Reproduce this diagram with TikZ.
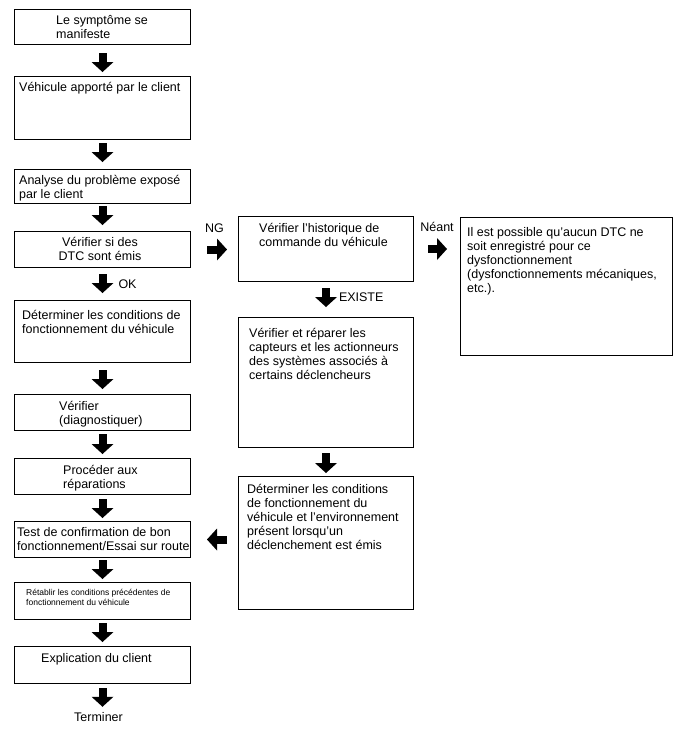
\documentclass[tikz,border=0pt]{standalone}
\usepackage{fontspec}
\setmainfont{Liberation Sans}
\usepackage{tikz}
\usetikzlibrary{arrows.meta, positioning}

\begin{document}
\begin{tikzpicture}[
  x=1pt, y=-1pt,
  box/.style={draw, line width=1pt, inner sep=0pt, anchor=north west},
  txt/.style={inner sep=0pt, anchor=base west, align=left,
    font=\fontsize{12.5}{14}\selectfont},
  small/.style={inner sep=0pt, anchor=base west, align=left,
    font=\fontsize{8.5}{10}\selectfont},
  lbl/.style={inner sep=0pt, font=\fontsize{12.5}{14}\selectfont},
  blk/.style={line width=8pt, -{Triangle[length=10pt, width=22pt, line width=0pt]}}
]
\useasboundingbox (0,0) rectangle (688,755);

% left column
\node[box, minimum width=176pt, minimum height=35pt] (b1) at (14,9) {};
\node[box, minimum width=176pt, minimum height=63pt] (b2) at (14,76) {};
\node[box, minimum width=176pt, minimum height=34pt] (b3) at (14,169) {};
\node[box, minimum width=176pt, minimum height=36pt] (b4) at (14,231) {};
\node[box, minimum width=176pt, minimum height=62pt] (b5) at (14,300) {};
\node[box, minimum width=176pt, minimum height=36pt] (b6) at (14,394) {};
\node[box, minimum width=176pt, minimum height=36pt] (b7) at (14,458) {};
\node[box, minimum width=176pt, minimum height=36pt] (b8) at (14,521) {};
\node[box, minimum width=176pt, minimum height=37pt] (b9) at (14,582) {};
\node[box, minimum width=176pt, minimum height=37pt] (b10) at (14,646) {};

% texts (base = last line)
\node[txt] (t1) at (56,38) {Le symptôme se\\manifeste};
\node[txt] (t2) at (19,91) {Véhicule apporté par le client};
\node[txt] (t3) at (19,198) {Analyse du problème exposé\\par le client};
\node[txt, anchor=base, align=center] (t4) at (100,260) {Vérifier si des\\DTC sont émis};
\node[txt] (t5) at (22,333) {Déterminer les conditions de\\fonctionnement du véhicule};
\node[txt] (t6) at (59,424) {Vérifier\\(diagnostiquer)};
\node[txt] (t7) at (63,488) {Procéder aux\\réparations};
\node[txt] (t8) at (17,550) {Test de confirmation de bon\\fonctionnement/Essai sur route};
\node[small] (t9) at (26,605) {Rétablir les conditions précédentes de\\fonctionnement du véhicule};
\node[txt] (t10) at (41,662) {Explication du client};
\node[txt] (fin) at (74,721) {Terminer};

% right column
\node[box, minimum width=175pt, minimum height=65pt] (vh) at (238,216) {};
\node[box, minimum width=175pt, minimum height=130pt] (vr) at (238,317) {};
\node[box, minimum width=175pt, minimum height=133pt] (dc) at (238,476) {};
\node[box, minimum width=212pt, minimum height=138pt] (nt) at (460,217) {};

\node[txt] (tvh) at (259,246) {Vérifier l'historique de\\commande du véhicule};
\node[txt] (tvr) at (249,379) {Vérifier et réparer les\\capteurs et les actionneurs\\des systèmes associés à\\certains déclencheurs};
\node[txt] (tdc) at (247,549) {Déterminer les conditions\\de fonctionnement du\\véhicule et l'environnement\\présent lorsqu'un\\déclenchement est émis};
\node[txt] (tnt) at (467,292) {Il est possible qu'aucun DTC ne\\soit enregistré pour ce\\dysfonctionnement\\(dysfonctionnements mécaniques,\\etc.).};

% block arrows
\draw[blk, shorten <=8pt, shorten >=4pt] (b1.south) -- (b2.north);
\draw[blk, shorten <=3pt, shorten >=7pt] (b2.south) -- (b3.north);
\draw[blk, shorten <=2pt, shorten >=6pt] (b3.south) -- (b4.north);
\draw[blk, shorten <=6pt, shorten >=7pt] (b4.south) -- node[lbl, midway, right=12pt] {OK} (b5.north);
\draw[blk, shorten <=7pt, shorten >=5pt] (b5.south) -- (b6.north);
\draw[blk, shorten <=3pt, shorten >=4pt] (b6.south) -- (b7.north);
\draw[blk, shorten <=4pt, shorten >=3pt] (b7.south) -- (b8.north);
\draw[blk, shorten <=2pt, shorten >=3pt] (b8.south) -- (b9.north);
\draw[blk, shorten <=3pt, shorten >=4pt] (b9.south) -- (b10.north);
\draw[blk, shorten <=4pt, shorten >=5pt] (b10.south) -- (b10.south |- fin.north);

\draw[blk, shorten <=16pt, shorten >=11pt] (b4.east) -- node[lbl, midway, anchor=south, yshift=13pt] {NG} (b4.east -| vh.west);
\draw[blk, shorten <=14pt, shorten >=13pt] (vh.east) -- node[lbl, midway, anchor=south, yshift=13pt] {Néant} (vh.east -| nt.west);
\draw[blk, shorten <=6pt, shorten >=10pt] (vh.south) -- node[lbl, midway, right=9pt, yshift=2pt] {EXISTE} (vr.north);
\draw[blk, shorten <=5pt, shorten >=3pt] (vr.south) -- (dc.north);
\draw[blk, shorten <=11pt, shorten >=16pt] (dc.west |- b8.east) -- (b8.east);
\end{tikzpicture}
\end{document}
